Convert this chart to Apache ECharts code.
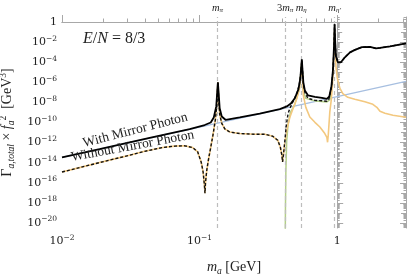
<!DOCTYPE html>
<html><head><meta charset="utf-8">
<script src="https://cdn.jsdelivr.net/npm/echarts@6/dist/echarts.min.js"></script>
<style>html,body{margin:0;padding:0;background:#fff}#c{width:407px;height:276px}</style>
</head><body><div id="c"></div>
<script>
// ---- data: log10(m_a / GeV) and log10(Gamma_total * f_a^2 / GeV^3) ----
const withMirror_logm = [-2.000,-1.727,-1.363,-1.072,-0.963,-0.919,-0.897,-0.879,-0.871,-0.867,-0.862,-0.854,-0.839,-0.810,-0.708,-0.563,-0.417,-0.366,-0.337,-0.308,-0.282,-0.268,-0.261,-0.257,-0.253,-0.246,-0.235,-0.213,-0.162,-0.111,-0.075,-0.057,-0.042,-0.031,-0.023,-0.019,-0.015,-0.009,0.005,0.027,0.056,0.093,0.129,0.180,0.238,0.282,0.311,0.384,0.500];
const withMirror_logG = [-13.46,-12.64,-11.52,-10.66,-10.25,-10.00,-9.50,-8.40,-6.80,-6.00,-7.00,-8.59,-9.40,-9.75,-9.50,-9.11,-8.66,-8.40,-8.12,-7.59,-6.70,-5.60,-4.41,-3.71,-4.61,-6.00,-6.80,-7.29,-7.44,-7.54,-7.64,-7.39,-6.40,-4.81,-2.32,-0.23,-1.82,-3.41,-4.01,-4.01,-3.51,-3.02,-2.77,-2.50,-2.47,-2.62,-2.57,-2.42,-2.12];

const withoutMirror_logm = [-2.000,-1.873,-1.727,-1.618,-1.509,-1.400,-1.269,-1.181,-1.108,-1.050,-1.014,-0.988,-0.974,-0.965,-0.961,-0.957,-0.948,-0.934,-0.919,-0.902,-0.886,-0.875,-0.867,-0.861,-0.854,-0.839,-0.817,-0.781,-0.708,-0.599,-0.526,-0.468,-0.432,-0.413,-0.402,-0.397,-0.391,-0.380,-0.370,-0.357,-0.344,-0.320,-0.293,-0.275,-0.264,-0.257,-0.252,-0.246,-0.235,-0.213,-0.162,-0.111,-0.075,-0.061,-0.042,-0.031,-0.023,-0.019,-0.015,-0.009,0.005,0.027,0.056,0.093,0.129,0.180,0.238,0.282,0.311,0.384,0.500];
const withoutMirror_logG = [-14.93,-14.49,-13.99,-13.62,-13.26,-12.87,-12.49,-12.35,-12.32,-12.50,-12.92,-13.96,-14.96,-16.25,-17.04,-15.95,-14.76,-13.56,-12.47,-11.17,-9.78,-8.29,-6.00,-7.79,-9.18,-10.08,-10.63,-10.95,-11.10,-11.17,-11.17,-11.37,-11.77,-12.47,-13.26,-13.93,-13.26,-11.77,-10.28,-9.11,-8.59,-7.89,-7.09,-6.20,-5.00,-3.81,-4.81,-6.20,-7.00,-7.59,-7.79,-7.84,-7.89,-7.69,-6.50,-4.91,-2.42,-0.23,-1.82,-3.41,-4.01,-4.01,-3.51,-3.02,-2.77,-2.50,-2.47,-2.62,-2.57,-2.42,-2.12];

const gammaGamma_logm = [-2.000,-1.873,-1.727,-1.618,-1.509,-1.400,-1.269,-1.181,-1.108,-1.050,-1.014,-0.988,-0.974,-0.965,-0.961,-0.957,-0.948,-0.934,-0.919,-0.902,-0.886,-0.875,-0.867,-0.861,-0.854,-0.839,-0.817,-0.781,-0.708,-0.599,-0.526,-0.468,-0.432,-0.413,-0.402,-0.397,-0.391,-0.380,-0.364,-0.344,-0.320,-0.293,-0.275,-0.264,-0.257,-0.252,-0.246,-0.228,-0.199,-0.162,-0.126,-0.090,-0.075,-0.070,-0.065,-0.054,-0.042,-0.034,-0.027,-0.019,-0.015,-0.009,0.001,0.020,0.041,0.077,0.128,0.201,0.259,0.288,0.311,0.347,0.405,0.500];
const gammaGamma_logG = [-14.93,-14.49,-13.99,-13.62,-13.26,-12.87,-12.49,-12.35,-12.32,-12.50,-12.92,-13.96,-14.96,-16.25,-17.04,-15.95,-14.76,-13.56,-12.47,-11.17,-9.78,-8.29,-6.00,-7.79,-9.18,-10.08,-10.63,-10.95,-11.10,-11.17,-11.17,-11.37,-11.77,-12.47,-13.26,-13.93,-13.26,-11.97,-10.58,-9.48,-8.59,-7.59,-6.60,-5.30,-4.01,-5.60,-7.29,-8.49,-9.45,-9.98,-10.45,-11.10,-11.47,-11.97,-11.27,-9.00,-7.59,-6.10,-4.31,-0.82,-2.82,-4.41,-5.60,-6.60,-7.12,-7.49,-7.69,-7.94,-8.19,-8.49,-8.89,-9.08,-9.28,-9.48];

const threePi_logm = [-0.378,-0.376,-0.373,-0.367,-0.357,-0.340,-0.311,-0.275,-0.257,-0.246,-0.228,-0.162,-0.111,-0.075,-0.054,-0.042];
const threePi_logG = [-22.0,-18.5,-14.8,-11.8,-10.2,-9.0,-8.3,-6.7,-4.1,-6.9,-7.6,-7.85,-7.9,-7.95,-7.75,-6.9];

const mirrorPhoton_logm = [-2.0,-1.0,0.0,0.5];
const mirrorPhoton_logG = [-13.48,-10.45,-7.42,-5.90];

const massesGeV = [0.135, 0.4188, 0.548, 0.958];
const massLabels = ['{i|m}{s|π}', '{r|3}{i|m}{s|π}', '{i|m}{s|η}', '{i|m}{s|η′}'];
const yTickExps = [0,-2,-4,-6,-8,-10,-12,-14,-16,-18,-20];
const xTickExps = [-2,-1,0];

// ---- chart ----
const SERIF = 'Liberation Serif';
const NUM = 'DejaVu Serif';
const TXT = '#222';
const AX = '#a8a8a8';
const YMIN = -20.5, YMAX = 0.5, XMIN = -2, XMAX = 0.5;
const pts = (xs, ys) => xs.map((x, i) => [x, ys[i]]);

const yDecades = []; for (let n = -20; n <= 0; n++) yDecades.push(n);
const yMinor = []; for (let n = -21; n <= 0; n++) for (let k = 2; k <= 9; k++) { const v = n + Math.log10(k); if (v > YMIN && v < YMAX) yMinor.push(v); }
const xMinor = []; for (let n = -2; n <= 0; n++) for (let k = 2; k <= 9; k++) { const v = n + Math.log10(k); if (v > XMIN && v < XMAX) xMinor.push(v); }

const numRich = {
  b: {fontFamily: NUM, fontSize: 11, color: TXT, lineHeight: 15},
  s: {fontFamily: NUM, fontSize: 7.5, color: TXT, lineHeight: 9, verticalAlign: 'top'}
};
const expLabel = v => v === 0 ? '{b|1}' : '{b|10}{s|−' + (-v) + '}';

function tickAxis(base, vals, len, extra) {
  return Object.assign({
    type: 'value', min: base.min, max: base.max, position: base.position,
    axisLine: {show: false}, splitLine: {show: false},
    axisLabel: {show: false},
    axisTick: {show: true, inside: true, length: len, customValues: vals, lineStyle: {color: AX, width: 1}}
  }, extra || {});
}

const xb = {min: XMIN, max: XMAX, position: 'bottom'};
const xt = {min: XMIN, max: XMAX, position: 'top'};
const yl = {min: YMIN, max: YMAX, position: 'left'};
const yr = {min: YMIN, max: YMAX, position: 'right'};

const option = {
  animation: false,
  backgroundColor: '#fff',
  grid: {left: 62, right: 1, top: 17, bottom: 48, containLabel: false, outerBoundsMode: 'none'},
  xAxis: [
    Object.assign(tickAxis(xb, xTickExps, 7), {
      axisLine: {show: true, lineStyle: {color: AX, width: 1}},
      axisLabel: {show: true, customValues: xTickExps, formatter: expLabel, rich: numRich, margin: 6},
      name: '{i|m}{s|a}{r| [GeV]}', nameLocation: 'middle', nameGap: 31,
      nameTextStyle: {rich: {
        i: {fontFamily: SERIF, fontStyle: 'italic', fontSize: 14, color: TXT, lineHeight: 17},
        s: {fontFamily: SERIF, fontStyle: 'italic', fontSize: 9.5, color: TXT, lineHeight: 9, verticalAlign: 'bottom'},
        r: {fontFamily: SERIF, fontSize: 14, color: TXT, lineHeight: 17}
      }}
    }),
    tickAxis(xb, xMinor, 3.5),
    Object.assign(tickAxis(xt, massesGeV.map(m => Math.log10(m)), 4), {
      axisLine: {show: true, lineStyle: {color: AX, width: 1}},
      axisLabel: {show: true, margin: 3,
        customValues: massesGeV.map(m => Math.log10(m)),
        formatter: v => { let best = 0; massesGeV.forEach((m, i) => { if (Math.abs(Math.log10(m) - v) < Math.abs(Math.log10(massesGeV[best]) - v)) best = i; }); return massLabels[best]; },
        rich: {
          i: {fontFamily: SERIF, fontStyle: 'italic', fontSize: 10.5, color: TXT, lineHeight: 12},
          r: {fontFamily: SERIF, fontSize: 10.5, color: TXT, lineHeight: 12},
          s: {fontFamily: SERIF, fontStyle: 'italic', fontSize: 7, color: TXT, lineHeight: 7, verticalAlign: 'bottom'}
        }}
    })
  ],
  yAxis: [
    Object.assign(tickAxis(yl, yTickExps, 6), {
      axisLine: {show: true, lineStyle: {color: AX, width: 1}},
      axisLabel: {show: true, customValues: yTickExps, formatter: expLabel, rich: numRich, margin: 5},
      name: '{g|Γ}{s|a,total}{r| × }{i|f}{s|a}{p|2}{r|  [GeV}{p|3}{r|]}',
      nameLocation: 'middle', nameRotate: 90, nameGap: 41,
      nameTextStyle: {rich: {
        g: {fontFamily: SERIF, fontSize: 14, color: TXT, lineHeight: 18},
        r: {fontFamily: SERIF, fontSize: 14, color: TXT, lineHeight: 18},
        i: {fontFamily: SERIF, fontStyle: 'italic', fontSize: 14, color: TXT, lineHeight: 18},
        s: {fontFamily: SERIF, fontStyle: 'italic', fontSize: 9.5, color: TXT, lineHeight: 9, verticalAlign: 'bottom'},
        p: {fontFamily: SERIF, fontSize: 9.5, color: TXT, lineHeight: 9, verticalAlign: 'top'}
      }}
    }),
    tickAxis(yl, yDecades, 5),
    tickAxis(yl, yMinor, 2.5),
    Object.assign(tickAxis(yr, yTickExps, 6), {axisLine: {show: true, lineStyle: {color: AX, width: 1}}}),
    tickAxis(yr, yDecades, 5),
    tickAxis(yr, yMinor, 2.5)
  ],
  series: [
    {type: 'line', name: 'mirror photon', data: pts(mirrorPhoton_logm, mirrorPhoton_logG), symbol: 'none', z: 2,
      lineStyle: {color: '#a7bfe0', width: 1.3},
      markLine: {silent: true, symbol: ['none', 'none'], label: {show: false},
        lineStyle: {color: '#bdbdbd', width: 1.2, type: [4, 3]},
        data: massesGeV.map(m => ({xAxis: Math.log10(m)}))}},
    {type: 'line', name: '3pi', data: pts(threePi_logm, threePi_logG), symbol: 'none', z: 3,
      lineStyle: {color: '#b3cf88', width: 1.5}},
    {type: 'line', name: 'gamma gamma', data: pts(gammaGamma_logm, gammaGamma_logG), symbol: 'none', z: 4,
      lineStyle: {color: '#f3c87f', width: 1.6}},
    {type: 'line', name: 'Without Mirror Photon', data: pts(withoutMirror_logm, withoutMirror_logG), symbol: 'none', z: 5,
      lineStyle: {color: '#111', width: 1.4, type: [3, 2]}},
    {type: 'line', name: 'With Mirror Photon', data: pts(withMirror_logm, withMirror_logG), symbol: 'none', z: 6,
      lineStyle: {color: '#000', width: 1.8}}
  ],
  graphic: [
    {type: 'text', left: 83, top: 31, z: 10, style: {
      text: '{i|E}{r|/}{i|N}{r| = 8/3}',
      rich: {
        i: {fontFamily: SERIF, fontStyle: 'italic', fontSize: 16, fill: TXT},
        r: {fontFamily: SERIF, fontSize: 16, fill: TXT}
      }}},
    {type: 'text', x: 137, y: 137, rotation: 14.4 * Math.PI / 180, z: 10, style: {
      text: 'With Mirror Photon', fontFamily: SERIF, fontSize: 13.5, fill: TXT, align: 'center', verticalAlign: 'bottom'}},
    {type: 'text', x: 134, y: 153, rotation: 10.5 * Math.PI / 180, z: 10, style: {
      text: 'Without Mirror Photon', fontFamily: SERIF, fontSize: 13.5, fill: TXT, align: 'center', verticalAlign: 'bottom'}}
  ]
};
const chart = echarts.init(document.getElementById('c'));
chart.setOption(option);
</script>
</body></html>
